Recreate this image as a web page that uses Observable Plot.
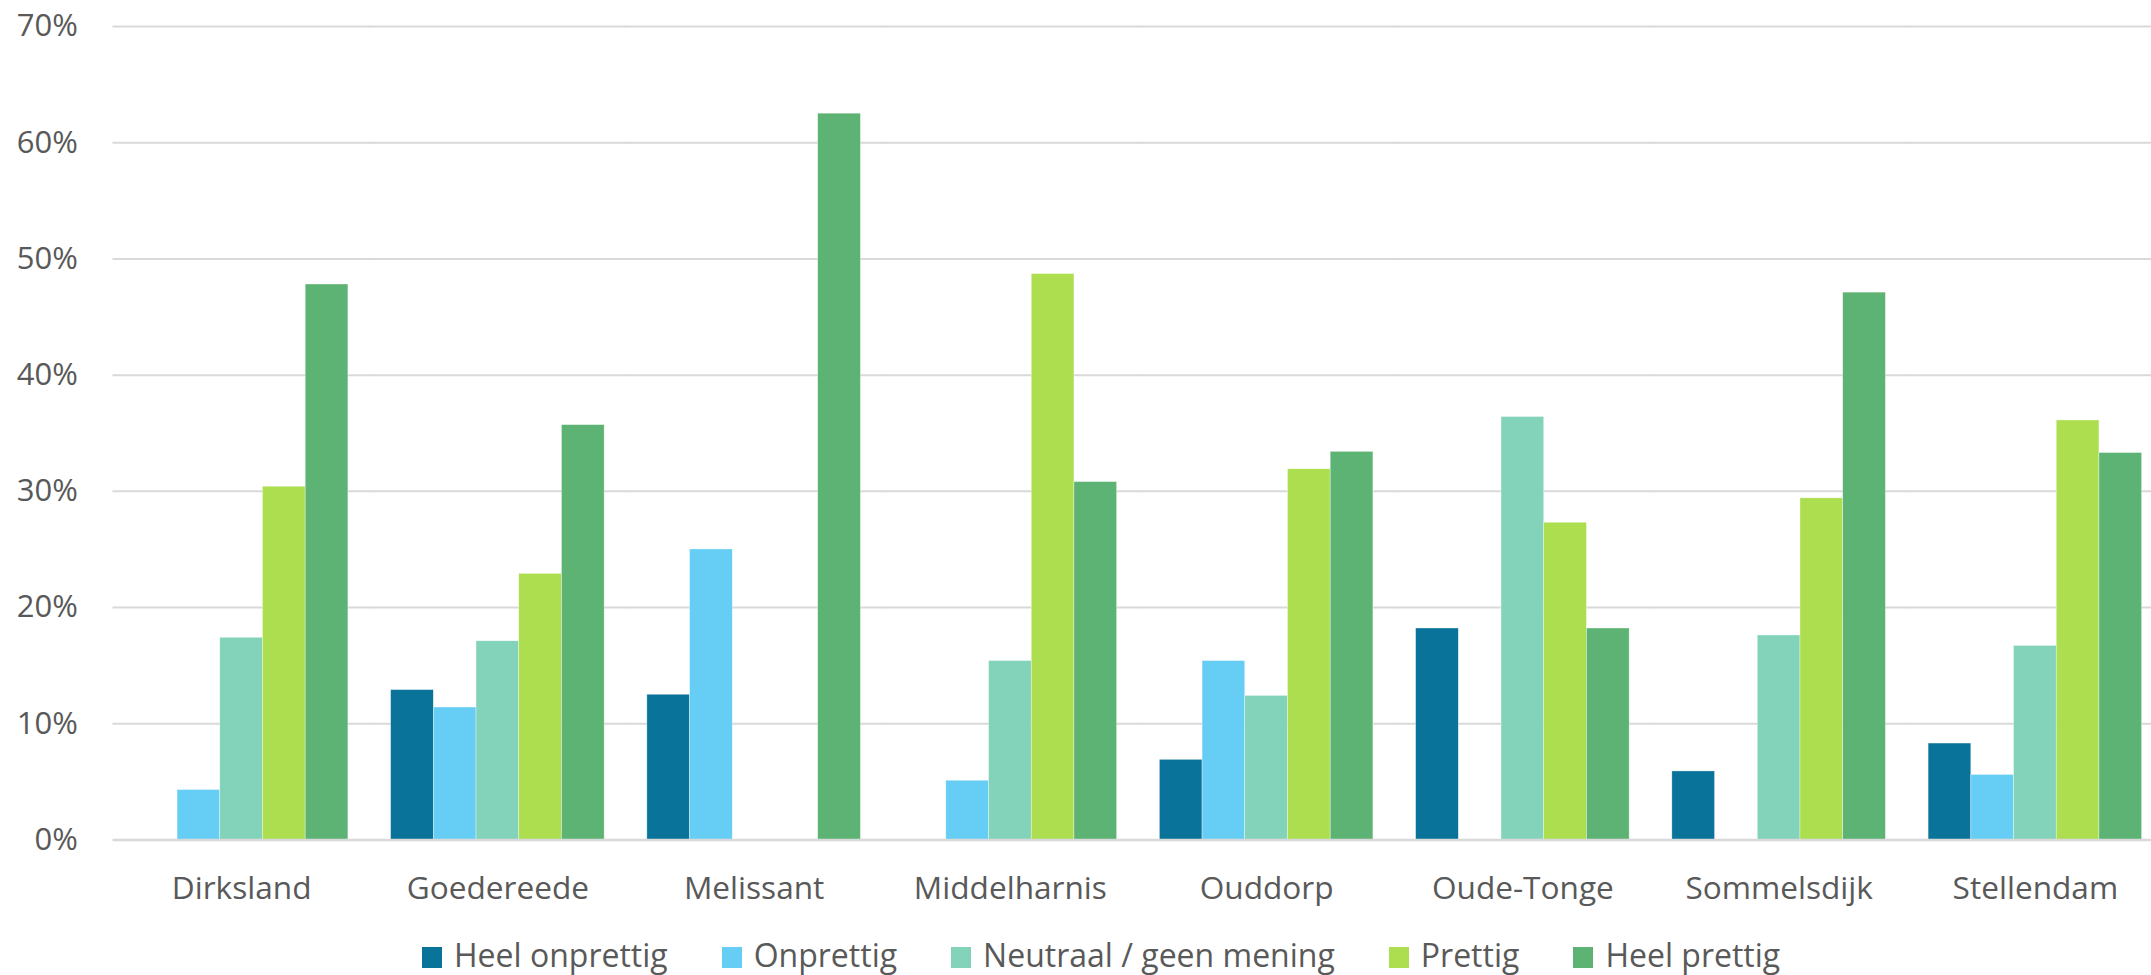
<!DOCTYPE html>
<html>
<head>
<meta charset="utf-8">
<script src="https://cdn.jsdelivr.net/npm/d3@7"></script>
<script src="https://cdn.jsdelivr.net/npm/@observablehq/plot@0.6"></script>
<style>
  html, body { margin: 0; padding: 0; background: #fff; overflow: hidden; }
  #chart svg { display: block; }
  .lg-swatches { font-family: "Open Sans", sans-serif !important; font-size: 32px !important; color: #595959 !important; margin: 0 !important; padding-left: 422px; min-height: 0 !important; line-height: normal; }
  .lg-swatch { margin-right: 54px !important; }
  .lg-swatch > svg { margin-right: 12px !important; position: relative; top: 3px; }
</style>
</head>
<body>
<div id="chart"></div>
<script>
const towns = ["Dirksland", "Goedereede", "Melissant", "Middelharnis", "Ouddorp", "Oude-Tonge", "Sommelsdijk", "Stellendam"];
const series = ["Heel onprettig", "Onprettig", "Neutraal / geen mening", "Prettig", "Heel prettig"];
const colors = ["#0A7399", "#66CDF4", "#82D3B9", "#ADDE4F", "#5DB373"];

const heelOnprettig = [0, 12.9, 12.5, 0, 6.9, 18.2, 5.9, 8.3];
const onprettig     = [4.3, 11.4, 25.0, 5.1, 15.4, 0, 0, 5.6];
const neutraal      = [17.4, 17.1, 0, 15.4, 12.4, 36.4, 17.6, 16.7];
const prettig       = [30.4, 22.9, 0, 48.7, 31.9, 27.3, 29.4, 36.1];
const heelPrettig   = [47.8, 35.7, 62.5, 30.8, 33.4, 18.2, 47.1, 33.3];

const yTicks = [0, 10, 20, 30, 40, 50, 60, 70];

const seriesValues = [heelOnprettig, onprettig, neutraal, prettig, heelPrettig];
const data = towns.flatMap((town, i) =>
  series.map((s, j) => ({town, series: s, value: seriesValues[j][i]}))
);

// facet band layout
const fxRange = [113, 2163];
const padInner = 1 / 6, padOuter = 1 / 12;
const step = (fxRange[1] - fxRange[0]) / (towns.length - padInner + 2 * padOuter);
const halfGap = step * padInner / 2 + 0.5;

const chart = Plot.plot({
  width: 2151,
  height: 933,
  marginTop: 26,
  marginBottom: 93.5,
  marginLeft: 113,
  marginRight: 0,
  style: {fontFamily: "'Open Sans', sans-serif", fontSize: "31px", color: "#595959", background: "white"},
  fx: {domain: towns, range: fxRange, paddingInner: padInner, paddingOuter: padOuter, round: false, label: null},
  x: {domain: series, padding: 0, round: false, axis: null},
  y: {domain: [0, 70], label: null},
  color: {domain: series, range: colors},
  marks: [
    Plot.ruleY(yTicks.filter(d => d > 0), {stroke: "#d9d9d9", strokeWidth: 2, insetLeft: -halfGap, insetRight: -halfGap}),
    Plot.barY(data, {fx: "town", x: "series", y: "value", fill: "series", stroke: "white", strokeWidth: 0.6, strokeOpacity: 0.6}),
    Plot.ruleY([0], {stroke: "#d9d9d9", strokeWidth: 2.5, insetLeft: -halfGap, insetRight: -halfGap}),
    Plot.axisY({ticks: yTicks, tickSize: 0, tickPadding: 57, tickFormat: d => d + "%", label: null}),
    Plot.axisFx({anchor: "bottom", tickSize: 0, tickPadding: 37, fontSize: 31.6, label: null})
  ]
});

const root = document.getElementById("chart");
root.appendChild(chart);
const legend = chart.legend("color", {legend: "swatches", swatchWidth: 20, swatchHeight: 21, className: "lg"});
root.appendChild(legend);
</script>
</body>
</html>
